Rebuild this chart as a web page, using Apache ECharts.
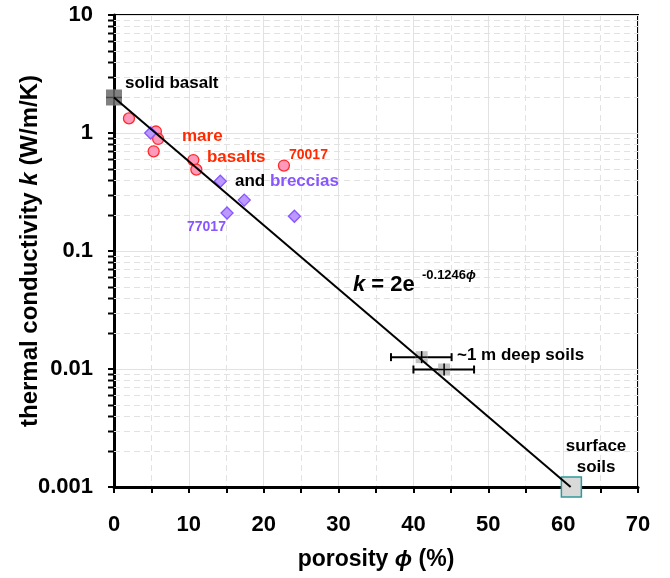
<!DOCTYPE html>
<html>
<head>
<meta charset="utf-8">
<script src="https://cdn.jsdelivr.net/npm/echarts@6/dist/echarts.min.js"></script>
<style>
  html, body { margin: 0; background: #fff; }
  #chart { width: 670px; height: 578px; }
</style>
</head>
<body>
<div id="chart"></div>
<script>
// values
const solidBasalt = [[0, 2]];
const mareBasalts = [[2.0, 1.33], [5.6, 1.03], [5.9, 0.89], [5.3, 0.70], [10.6, 0.59], [11.0, 0.49], [22.7, 0.53]];
const breccias = [[4.9, 1.0], [14.2, 0.39], [17.4, 0.27], [15.1, 0.21], [24.1, 0.197]];
// [porosity, k, porosity low, porosity high]
const deepSoils = [[41.1, 0.0126, 37.0, 45.1], [44.1, 0.0099, 40.0, 48.1]];
const surfaceSoils = [[61.1, 0.001]];
const fitLine = [[0, 2], [61.0, 0.001]];

const yTickLabels = ['0.001', '0.01', '0.1', '1', '10'];
const decades = [0.001, 0.01, 0.1, 1];
const minorSteps = [2, 3, 4, 5, 6, 7, 8, 9];
const minorVals = [];
decades.forEach(d => minorSteps.forEach(m => minorVals.push(+(d * m).toPrecision(3))));

const FONT = '"Liberation Sans", Arial, sans-serif';
const font = (size, style) => (style || '') + ' bold ' + size + 'px ' + FONT;

const notes = [
  { at: [1.47, 2.65], text: 'solid basalt', color: '#000', size: 17 },
  { at: [9.08, 0.943], text: 'mare', color: '#ff2a00', size: 17 },
  { at: [12.42, 0.626], text: 'basalts', color: '#ff2a00', size: 17 },
  { at: [23.38, 0.651], text: '70017', color: '#ff2a00', size: 14 },
  { at: [16.16, 0.392], text: '{a|and }{b|breccias}', size: 17 },
  { at: [9.75, 0.1597], text: '77017', color: '#8855ff', size: 14 },
  { at: [31.93, 0.0515], text: '{k|k}{a| = 2e}', size: 22 },
  { at: [41.14, 0.0626], text: '{a|-0.1246}{p|\u03d5}', size: 13 },
  { at: [45.82, 0.01314], text: '~1 m deep soils', color: '#000', size: 17 },
  { at: [64.4, 0.00181], text: 'surface\nsoils', color: '#000', size: 17, align: 'center' }
];
const rich = {
  a: { fill: '#000' },
  b: { fill: '#8855ff' },
  k: { fill: '#000', fontStyle: 'italic' },
  p: { fill: '#000', fontStyle: 'italic' }
};

function minorGrid(params, api) {
  const cs = params.coordSys;
  const y = Math.round(api.coord([0, api.value(1)])[1]) + 0.5;
  return {
    type: 'group',
    children: [
      { type: 'line', shape: { x1: cs.x, y1: y, x2: cs.x + cs.width, y2: y },
        style: { stroke: '#e2e2e2', lineWidth: 1, lineDash: [6, 4] } },
      { type: 'line', shape: { x1: cs.x - 6, y1: y, x2: cs.x, y2: y },
        style: { stroke: '#000', lineWidth: 2 } }
    ]
  };
}

function plusBox(size, fill, stroke, plus) {
  return function (params, api) {
    const p = api.coord([api.value(0), api.value(1)]);
    const h = size / 2;
    const kids = [];
    if (api.value(2) != null && !isNaN(api.value(2))) {
      const lo = api.coord([api.value(2), api.value(1)])[0];
      const hi = api.coord([api.value(3), api.value(1)])[0];
      kids.push({ type: 'line', shape: { x1: lo, y1: p[1], x2: hi, y2: p[1] }, style: { stroke: '#000', lineWidth: 2 } });
      kids.push({ type: 'line', shape: { x1: lo, y1: p[1] - 4, x2: lo, y2: p[1] + 4 }, style: { stroke: '#000', lineWidth: 2 } });
      kids.push({ type: 'line', shape: { x1: hi, y1: p[1] - 4, x2: hi, y2: p[1] + 4 }, style: { stroke: '#000', lineWidth: 2 } });
    }
    kids.push({ type: 'rect', shape: { x: p[0] - h, y: p[1] - h, width: size, height: size },
      style: { fill: fill, stroke: stroke, lineWidth: stroke ? 1.5 : 0 } });
    if (plus) {
      kids.push({ type: 'line', shape: { x1: p[0] - h, y1: p[1], x2: p[0] + h, y2: p[1] }, style: { stroke: plus, lineWidth: 1.5 } });
      kids.push({ type: 'line', shape: { x1: p[0], y1: p[1] - h, x2: p[0], y2: p[1] + h }, style: { stroke: plus, lineWidth: 1.5 } });
    }
    return { type: 'group', children: kids };
  };
}

function noteItem(params, api) {
  const n = notes[api.value(2)];
  const p = api.coord([api.value(0), api.value(1)]);
  const r = {};
  Object.keys(rich).forEach(k => { r[k] = Object.assign({ font: font(n.size, rich[k].fontStyle) }, rich[k]); });
  return {
    type: 'text', x: p[0], y: p[1],
    style: {
      text: n.text, fill: n.color || '#000', font: font(n.size),
      align: n.align || 'left', verticalAlign: 'middle', lineHeight: 21, rich: r
    }
  };
}

const titleRich = size => ({
  a: { fontFamily: FONT, fontWeight: 'bold', fontSize: size, color: '#000' },
  i: { fontFamily: FONT, fontWeight: 'bold', fontStyle: 'italic', fontSize: size, color: '#000' }
});

const chart = echarts.init(document.getElementById('chart'), null, { renderer: 'canvas' });
chart.setOption({
  animation: false,
  backgroundColor: '#fff',
  grid: {
    left: 114, right: 32, top: 15, bottom: 91, containLabel: false, outerBoundsMode: 'none',
    show: true, borderColor: '#000', borderWidth: 2
  },
  xAxis: {
    type: 'value', min: 0, max: 70, interval: 10,
    name: '{a|porosity }{i|\u03d5}{a| (%)}', nameLocation: 'middle', nameGap: 61,
    nameMoveOverlap: false,
    nameTextStyle: { rich: titleRich(23) },
    axisLine: { lineStyle: { color: '#000', width: 3 } },
    axisTick: { length: 6, lineStyle: { color: '#000', width: 2 } },
    minorTick: { show: true, splitNumber: 2, length: 6, lineStyle: { color: '#000', width: 2 } },
    splitLine: { show: true, lineStyle: { color: '#e2e2e2', width: 1 } },
    minorSplitLine: { show: true, lineStyle: { color: '#e2e2e2', width: 1, type: [6, 4] } },
    axisLabel: { color: '#000', fontFamily: FONT, fontWeight: 'bold', fontSize: 22, margin: 27 }
  },
  yAxis: {
    type: 'log', logBase: 10, min: 0.001, max: 10,
    name: '{a|thermal conductivity }{i|k}{a| (W/m/K)}', nameLocation: 'middle', nameGap: 72,
    nameMoveOverlap: false,
    nameTextStyle: { rich: titleRich(24) },
    axisLine: { show: true, lineStyle: { color: '#000', width: 3 } },
    axisTick: { show: true, length: 6, lineStyle: { color: '#000', width: 2 } },
    splitLine: { show: true, lineStyle: { color: '#e2e2e2', width: 1 } },
    axisLabel: {
      color: '#000', fontFamily: FONT, fontWeight: 'bold', fontSize: 22, margin: 21,
      formatter: v => yTickLabels[Math.round(Math.log10(v)) + 3]
    }
  },
  series: [
    { type: 'custom', z: 1, silent: true, renderItem: minorGrid,
      data: minorVals.map(v => [0, v]), encode: { x: 0, y: 1 } },
    { type: 'scatter', z: 3, data: mareBasalts, symbol: 'circle', symbolSize: 11,
      itemStyle: { color: '#ff99bb', borderColor: '#ff2a2a', borderWidth: 1.3, opacity: 1 } },
    { type: 'scatter', z: 3, data: breccias, symbol: 'diamond', symbolSize: 12,
      itemStyle: { color: '#bb99ff', borderColor: '#8855ff', borderWidth: 1.3, opacity: 1 } },
    { type: 'custom', z: 3, renderItem: plusBox(16, '#808080', null, '#4a4a4a'),
      data: solidBasalt, encode: { x: 0, y: 1 } },
    { type: 'custom', z: 3, renderItem: plusBox(12, '#c4c4c4', null, '#000'),
      data: deepSoils, encode: { x: 0, y: 1 } },
    { type: 'custom', z: 3, renderItem: plusBox(20, '#d9d9d9', '#2e9a9a', null),
      data: surfaceSoils, encode: { x: 0, y: 1 } },
    { type: 'line', z: 5, data: fitLine, symbol: 'none', silent: true,
      lineStyle: { color: '#000', width: 2 } },
    { type: 'custom', z: 6, silent: true, renderItem: noteItem,
      data: notes.map((n, i) => [n.at[0], n.at[1], i]), encode: { x: 0, y: 1 } }
  ]
});
</script>
</body>
</html>
